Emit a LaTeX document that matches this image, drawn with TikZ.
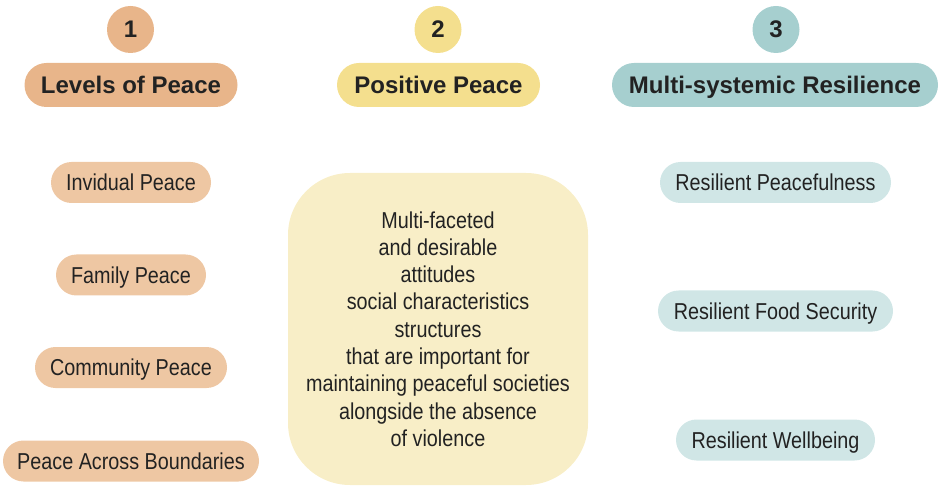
\documentclass[tikz,border=0pt]{standalone}
\usepackage{fontspec}
\setmainfont{Liberation Sans}
\newfontfamily\headfont{Liberation Sans}
\newfontfamily\bodyfont[FakeStretch=0.86]{Liberation Sans}
\definecolor{orA}{HTML}{E8B58A}
\definecolor{orB}{HTML}{EEC7A3}
\definecolor{yeA}{HTML}{F4DF8E}
\definecolor{yeB}{HTML}{F8EEC7}
\definecolor{teA}{HTML}{A6CFCF}
\definecolor{teB}{HTML}{D0E6E6}
\definecolor{txt}{HTML}{222222}
\tikzset{
  num/.style={circle, minimum size=47pt, inner sep=0pt, text=txt, text height=17pt, text depth=0pt, font=\headfont\bfseries\fontsize{24}{26}\selectfont},
  head/.style={rounded corners=22pt, minimum height=44pt, inner sep=0pt, text=txt, text height=17.5pt, text depth=0pt, font=\headfont\bfseries\fontsize{24}{27}\selectfont},
  item/.style={rounded corners=20.5pt, minimum height=41pt, inner sep=0pt, text=txt, text height=16.5pt, text depth=0pt, font=\bodyfont\fontsize{23}{26}\selectfont},
}
\begin{document}
\begin{tikzpicture}[x=1pt,y=-1pt]
\useasboundingbox (0,0) rectangle (945,486);
% numbers
\node[num, fill=orA] (n1) at (130.5,29.5) {1};
\node[num, fill=yeA] (n2) at (438,29.5) {2};
\node[num, fill=teA] (n3) at (776,29.5) {3};
% headers
\node[head, fill=orA, minimum width=213pt] (h1) at (131,85) {Levels of Peace};
\node[head, fill=yeA, minimum width=203pt] (h2) at (438.5,85) {Positive Peace};
\node[head, fill=teA, minimum width=326pt] (h3) at (775,85) {Multi-systemic Resilience};
% left items
\node[item, fill=orB, minimum width=160pt] (l1) at (131,182.5) {Invidual Peace};
\node[item, fill=orB, minimum width=150pt] (l2) at (131,275) {Family Peace};
\node[item, fill=orB, minimum width=192pt] (l3) at (131,367.5) {Community Peace};
\node[item, fill=orB, minimum width=256pt] (l4) at (131,461) {Peace Across Boundaries};
% center box
\node[rounded corners=62pt, fill=yeB, minimum width=300pt, minimum height=312pt, inner sep=0pt,
  text=txt, align=center, font=\bodyfont\fontsize{23}{27.3}\selectfont] (c) at (438,329)
  {Multi-faceted\\and desirable\\attitudes\\social characteristics\\structures\\that are important for\\maintaining peaceful societies\\alongside the absence\\of violence};
% right items
\node[item, fill=teB, minimum width=231pt] (r1) at (775.5,182.5) {Resilient Peacefulness};
\node[item, fill=teB, minimum width=235pt] (r2) at (775.5,311) {Resilient Food Security};
\node[item, fill=teB, minimum width=199pt] (r3) at (775.5,440) {Resilient Wellbeing};
\end{tikzpicture}
\end{document}
